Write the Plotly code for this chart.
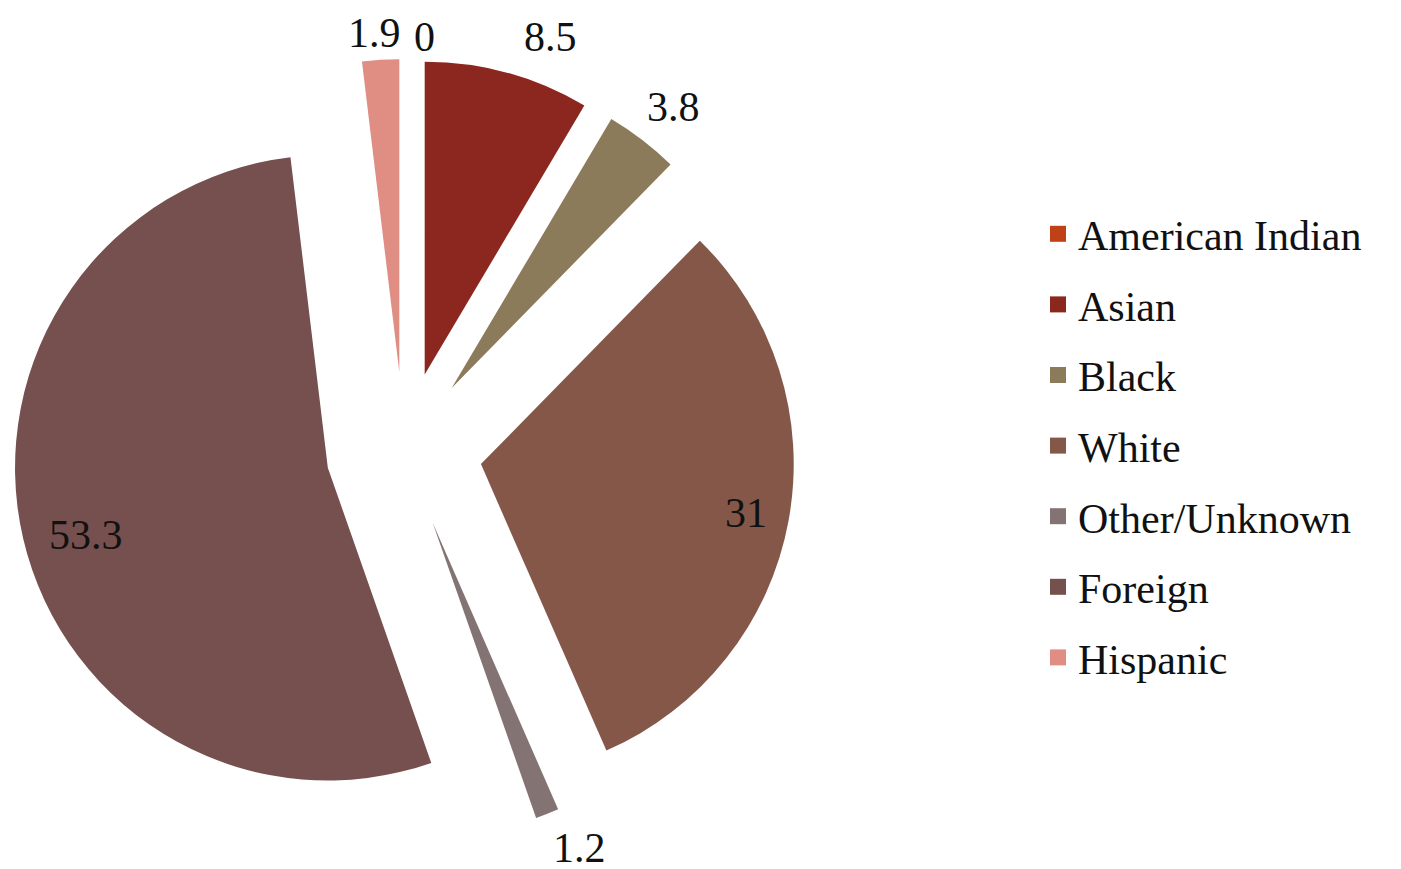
import math
import plotly.graph_objects as go

categories = ["American Indian", "Asian", "Black", "White", "Other/Unknown", "Foreign", "Hispanic"]
values = [0, 8.5, 3.8, 31, 1.2, 53.3, 1.9]
colors = ["#BF4216", "#8B271E", "#8C7B5A", "#855749", "#837373", "#76504F", "#E08D84"]

W, H = 1401, 869
PULL = 0.25
DOM_X = [5 / W, 787 / W]
DOM_Y = [36 / H, 818 / H]
FONT = "Liberation Serif"
# value labels: category -> (radial distance beyond the pull, in radii; xshift; yshift)
label_style = {
    "American Indian": (1.09, 21, -6),
    "Asian": (1.15, 31, -9),
    "Black": (1.14, 4, -2),
    "White": (0.86, 0, 0),
    "Other/Unknown": (1.14, 16, 7),
    "Foreign": (0.81, 5, -10),
    "Hispanic": (1.105, -4, -6),
}

fig = go.Figure()
fig.add_trace(go.Pie(
    labels=categories,
    values=values,
    sort=False,
    direction="clockwise",
    rotation=0,
    pull=[PULL] * len(values),
    marker=dict(colors=colors, line=dict(width=0)),
    textinfo="none",
    domain=dict(x=DOM_X, y=DOM_Y),
    hoverinfo="label+value",
    showlegend=False,
))

total = sum(values)
cx = (DOM_X[0] + DOM_X[1]) / 2 * W
cy = (DOM_Y[0] + DOM_Y[1]) / 2 * H
r = min((DOM_X[1] - DOM_X[0]) * W, (DOM_Y[1] - DOM_Y[0]) * H) / (2 + 2 * PULL)
cum = 0
for cat, v in zip(categories, values):
    mid = (cum + v / 2) / total * 2 * math.pi
    cum += v
    frac, xs, ys = label_style[cat]
    d = (PULL + frac) * r
    fig.add_annotation(
        x=(cx + d * math.sin(mid)) / W,
        y=(cy + d * math.cos(mid)) / H,
        xref="paper", yref="paper",
        xanchor="center", yanchor="middle",
        text=f"{v:g}", showarrow=False,
        xshift=xs, yshift=ys,
        font=dict(family=FONT, size=42, color="#111111"),
    )

# Legend entries
for cat, c in zip(categories, colors):
    fig.add_trace(go.Scatter(
        x=[None], y=[None], mode="markers", name=cat, legendgroup=cat,
        marker=dict(symbol="square", size=16, color=c),
        hoverinfo="skip",
    ))

fig.update_layout(
    width=W,
    height=H,
    margin=dict(l=0, r=0, t=0, b=0, autoexpand=False),
    paper_bgcolor="white",
    plot_bgcolor="white",
    font=dict(family=FONT, color="#111111"),
    showlegend=True,
    xaxis=dict(visible=False),
    yaxis=dict(visible=False),
    legend=dict(
        x=1030 / W, xanchor="left",
        y=1 - 438 / H, yanchor="middle",
        font=dict(family=FONT, size=42, color="#111111"),
        bgcolor="rgba(0,0,0,0)",
        tracegroupgap=13,
        itemclick=False, itemdoubleclick=False,
    ),
)

fig.write_html("out.html")
